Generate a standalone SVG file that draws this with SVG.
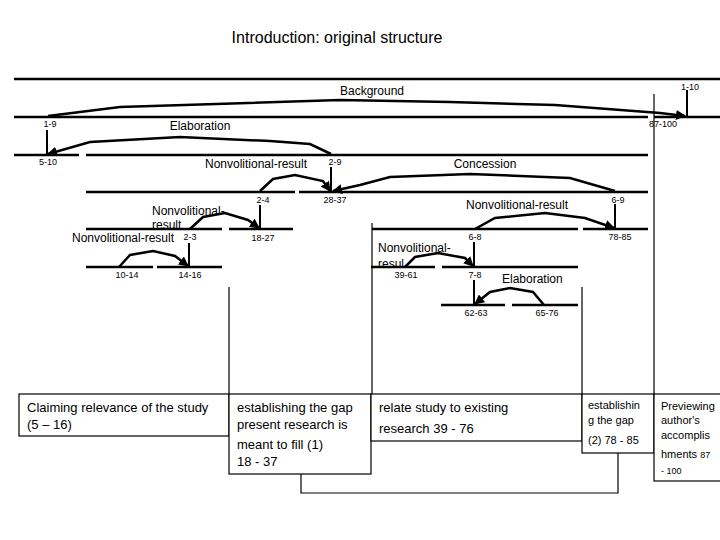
<svg xmlns="http://www.w3.org/2000/svg" width="720" height="540" viewBox="0 0 720 540">
<style>
text{font-family:"Liberation Sans",Arial,sans-serif;fill:#000}
.t{font-size:16px}
.r{font-size:12px}
.n{font-size:9px}
.b{font-size:13px}
.s{font-size:11px}
.l{stroke:#000;stroke-width:2.5;fill:none}
.a{stroke:#000;stroke-width:2.5;fill:none;marker-end:url(#ah)}
.v{stroke:#000;stroke-width:2;fill:none}
.c{stroke:#000;stroke-width:1.2;fill:none}
.bx{stroke:#000;stroke-width:1.2;fill:#fff}
</style>
<defs>
<marker id="ah" viewBox="0 0 10 10" refX="9" refY="5" markerWidth="4" markerHeight="4" orient="auto"><path d="M0,0L10,5L0,10z" fill="#000"/></marker>
</defs>
<rect width="720" height="540" fill="#fff"/>
<text class="t" x="337" y="43" text-anchor="middle">Introduction: original structure</text>
<g id="connectors">
<path class="c" d="M654,94V394M229,287V394M372,223V394M582,287V394M301,474V493H618V453"/>
<path class="l" d="M14,79H720M14,117H648M654,117H720M14,155H79M86,155H648M86,192H295M299,192H648M86,229H222M229,229H293M372,229H578M583,229H648M86,267H153M157,267H222M371,267H435M442,267H578M441,305H505M512,305H578"/>
<path class="v" d="M687,90V116M47,130V154M331,167V191M260,205V228M189,243V266M615,204V228M474,242V266M474,280V304"/>
<path class="a" d="M48,116L120,107L340,100L450,102L555,105L660,113L685,116"/>
<path class="a" d="M331,154L310,144L270,141L180,137L90,142L48,154"/>
<path class="a" d="M615,191L570,178L470,174L390,177L360,185L333,191"/>
<path class="a" d="M260,191L273,179L295,175L323,181L330,191"/>
<path class="a" d="M190,229L203,217L225,213L248,220L259,228"/>
<path class="a" d="M119,267L130,255L153,251L175,256L188,266"/>
<path class="a" d="M475,229L495,218L545,213L585,218L614,228"/>
<path class="a" d="M405,267L415,257L438,253L465,258L473,266"/>
<path class="a" d="M544,305L533,292L510,288L490,292L475,304"/>
</g>
<g id="labels">
<text class="r" x="372" y="95" text-anchor="middle">Background</text>
<text class="n" x="690" y="90" text-anchor="middle">1-10</text>
<text class="n" x="663" y="127" text-anchor="middle">87-100</text>
<text class="r" x="200" y="130" text-anchor="middle">Elaboration</text>
<text class="n" x="50" y="127" text-anchor="middle">1-9</text>
<text class="n" x="48" y="165" text-anchor="middle">5-10</text>
<text class="r" x="256" y="168" text-anchor="middle">Nonvolitional-result</text>
<text class="n" x="335" y="165" text-anchor="middle">2-9</text>
<text class="r" x="485" y="168" text-anchor="middle">Concession</text>
<text class="n" x="335" y="203" text-anchor="middle">28-37</text>
<text class="n" x="263" y="203" text-anchor="middle">2-4</text>
<text class="r" x="152" y="215">Nonvolitional-</text>
<text class="r" x="152" y="229">result</text>
<text class="r" x="72" y="242">Nonvolitional-result</text>
<text class="n" x="190" y="240" text-anchor="middle">2-3</text>
<text class="n" x="263" y="241" text-anchor="middle">18-27</text>
<text class="n" x="127" y="278" text-anchor="middle">10-14</text>
<text class="n" x="190" y="278" text-anchor="middle">14-16</text>
<text class="r" x="517" y="209" text-anchor="middle">Nonvolitional-result</text>
<text class="n" x="618" y="203" text-anchor="middle">6-9</text>
<text class="n" x="620" y="240" text-anchor="middle">78-85</text>
<text class="n" x="475" y="240" text-anchor="middle">6-8</text>
<text class="r" x="378" y="252">Nonvolitional-</text>
<text class="r" x="378" y="268">resul</text>
<text class="n" x="406" y="278" text-anchor="middle">39-61</text>
<text class="n" x="475" y="278" text-anchor="middle">7-8</text>
<text class="r" x="502" y="283">Elaboration</text>
<text class="n" x="476" y="316" text-anchor="middle">62-63</text>
<text class="n" x="547" y="316" text-anchor="middle">65-76</text>
</g>
<g id="box1"><rect class="bx" x="19" y="394" width="210" height="42"/>
<text class="b" x="27" y="412">Claiming relevance of the study</text><text class="b" x="27" y="429">(5 – 16)</text></g>
<g id="box2"><rect class="bx" x="229" y="394" width="142" height="80"/>
<text class="b" x="237" y="412">establishing the gap</text><text class="b" x="237" y="429">present research is</text><text class="b" x="237" y="449">meant to fill (1)</text><text class="b" x="237" y="466">18 - 37</text></g>
<g id="box3"><rect class="bx" x="371" y="394" width="211" height="47"/>
<text class="b" x="379" y="412">relate study to existing</text><text class="b" x="379" y="433">research 39 - 76</text></g>
<g id="box4"><rect class="bx" x="582" y="394" width="72" height="59"/>
<text class="s" x="588" y="409">establishin</text><text class="s" x="588" y="424">g the gap</text><text class="s" x="588" y="444">(2) 78 - 85</text></g>
<g id="box5"><rect class="bx" x="654" y="394" width="70" height="87"/>
<text class="s" x="661" y="410">Previewing</text><text class="s" x="661" y="424">author's</text><text class="s" x="661" y="439">accomplis</text><text class="s" x="661" y="458">hments <tspan font-size="9">87</tspan></text><text class="n" x="661" y="474">- 100</text></g>
</svg>
